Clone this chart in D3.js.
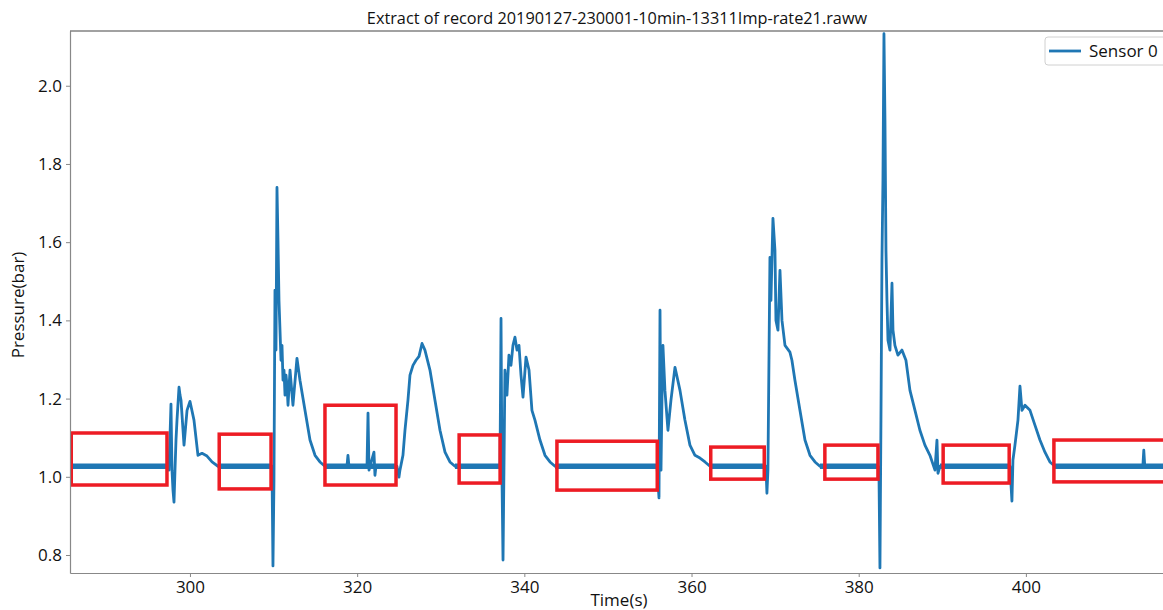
<!DOCTYPE html>
<html>
<head>
<meta charset="utf-8">
<script src="https://cdn.jsdelivr.net/npm/d3@7"></script>
<style>
  body { margin: 0; background: #fff; }
  text { font-family: "Open Sans", sans-serif; fill: #111; }
</style>
</head>
<body>
<div id="chart"></div>
<script>
const times = [
  285.65, 297.37, 297.49, 297.73, 297.85, 297.97, 298.09, 298.21, 298.33, 298.45, 298.69, 298.81, 298.93,
  299.29, 299.65, 300.0, 300.48, 300.96, 301.44, 302.04, 302.64, 303.35,
  309.81, 309.93, 310.05, 310.17, 310.29, 310.41, 310.53, 310.65, 310.77, 310.89, 311.01, 311.13, 311.25,
  311.37, 311.49, 311.61, 311.73, 311.97, 312.32, 312.80, 313.16, 313.76, 314.36, 314.96, 315.55, 316.15,
  318.78, 318.90, 319.02, 321.18, 321.30, 321.42, 322.01, 322.13, 322.25, 324.76, 325.0, 325.12, 325.48,
  325.72, 326.08, 326.32, 326.68, 327.04, 327.40, 327.76, 328.11, 328.71, 329.31, 329.91, 330.51, 331.10, 331.70,
  337.09, 337.21, 337.33, 337.45, 337.56, 337.68, 337.92, 338.16, 338.40, 338.64, 338.88, 339.12, 339.36,
  339.60, 339.84, 340.20, 340.56, 340.91, 341.27, 341.87, 342.47, 343.07, 343.67,
  355.87, 356.11, 356.23, 356.35, 356.47, 356.58, 356.82, 357.18, 357.54, 358.02, 358.62, 359.21, 359.81,
  360.41, 361.01, 361.61, 362.21,
  368.90, 369.02, 369.14, 369.38, 369.50, 369.74, 369.98, 370.10, 370.34, 370.58, 370.82, 371.18, 371.77,
  372.01, 372.37, 372.97, 373.57, 374.17, 374.77, 375.36,
  382.30, 382.42, 382.54, 382.66, 382.78, 382.90, 383.02, 383.14, 383.26, 383.38, 383.50, 383.74, 383.98,
  384.10, 384.33, 384.69, 385.17, 385.65, 386.13, 386.73, 387.32, 387.92, 388.52, 389.12, 389.36, 389.48, 389.72,
  398.09, 398.33, 398.45, 398.69, 399.05, 399.29, 399.53, 399.89, 400.49, 401.08, 401.68, 402.28, 402.87, 403.47,
  413.99, 414.10, 414.22, 416.40
];
const pressures = [
  1.027, 1.027, 1.017, 1.186, 1.017, 0.966, 0.935, 1.017, 1.094, 1.145, 1.229, 1.209, 1.196,
  1.081, 1.170, 1.193, 1.145, 1.055, 1.060, 1.053, 1.038, 1.027,
  1.027, 0.772, 0.992, 1.477, 1.324, 1.740, 1.604, 1.451, 1.375, 1.298, 1.336, 1.247, 1.273,
  1.209, 1.260, 1.234, 1.183, 1.273, 1.183, 1.303, 1.247, 1.170, 1.094, 1.055, 1.038, 1.027,
  1.027, 1.055, 1.027, 1.027, 1.163, 1.017, 1.063, 1.004, 1.027, 1.027, 0.999, 1.017, 1.055,
  1.119, 1.196, 1.260, 1.285, 1.298, 1.308, 1.341, 1.324, 1.273, 1.196, 1.119, 1.063, 1.038, 1.027,
  1.027, 1.405, 0.992, 0.787, 1.017, 1.273, 1.209, 1.311, 1.285, 1.336, 1.357, 1.324, 1.336,
  1.260, 1.204, 1.306, 1.273, 1.170, 1.145, 1.094, 1.055, 1.038, 1.027,
  1.027, 0.946, 1.426, 1.017, 1.209, 1.336, 1.221, 1.119, 1.196, 1.280, 1.221, 1.145, 1.081,
  1.055, 1.048, 1.038, 1.027,
  1.027, 0.958, 1.017, 1.561, 1.451, 1.661, 1.579, 1.400, 1.375, 1.528, 1.400, 1.336, 1.319,
  1.298, 1.247, 1.170, 1.094, 1.055, 1.038, 1.027,
  1.027, 1.017, 0.767, 1.145, 1.554, 1.758, 2.133, 1.911, 1.579, 1.451, 1.349, 1.324, 1.495,
  1.375, 1.336, 1.311, 1.324, 1.298, 1.221, 1.170, 1.119, 1.081, 1.055, 1.017, 1.094, 1.009, 1.027,
  1.027, 0.938, 1.043, 1.081, 1.145, 1.232, 1.170, 1.183, 1.170, 1.132, 1.094, 1.063, 1.038, 1.027,
  1.027, 1.068, 1.027, 1.027
];

// Ruhephasen (Rauschband um den Grundwert)
const quietStart = [285.65, 303.35, 316.15, 331.70, 343.67, 362.21, 375.36, 389.72, 403.47];
const quietEnd   = [297.37, 309.81, 324.76, 337.09, 355.87, 368.90, 382.30, 398.09, 416.40];
const quietLow = 1.020;
const quietHigh = 1.034;

// Rote Markierungen
const boxT0 = [285.8, 303.5, 316.15, 332.2, 343.9, 362.3, 375.95, 390.1, 403.35];
const boxT1 = [297.25, 309.7, 324.65, 337.1, 355.9, 368.7, 382.3, 398.0, 418.0];
const boxP0 = [0.979, 0.969, 0.979, 0.984, 0.966, 0.994, 0.994, 0.984, 0.987];
const boxP1 = [1.112, 1.109, 1.183, 1.107, 1.091, 1.076, 1.081, 1.081, 1.094];

const xTicks = [300, 320, 340, 360, 380, 400];
const yTicks = [0.8, 1.0, 1.2, 1.4, 1.6, 1.8, 2.0];
const seriesName = "Sensor 0";
const title = "Extract of record 20190127-230001-10min-13311Imp-rate21.raww";

// Konfiguration
const width = 1163;
const height = 610;
const margin = {top: 31, right: 0, bottom: 37, left: 70};
const lineColor = "#1f77b4";

const svg = d3.select("#chart")
    .append("svg")
    .attr("width", width)
    .attr("height", height);

const x = d3.scaleLinear()
    .domain([285.65, 416.4])
    .range([margin.left, width - margin.right]);

const y = d3.scaleLinear()
    .domain([0.754, 2.14])
    .range([height - margin.bottom, margin.top]);

svg.append("clipPath").attr("id", "plot")
    .append("rect")
    .attr("x", margin.left)
    .attr("y", margin.top)
    .attr("width", width - margin.left - margin.right)
    .attr("height", height - margin.top - margin.bottom);

const plot = svg.append("g").attr("clip-path", "url(#plot)");

// Rauschband
plot.selectAll("rect.band")
    .data(quietStart.map((t, i) => ({t0: t, t1: quietEnd[i]})))
    .join("rect")
    .attr("class", "band")
    .attr("x", d => x(d.t0))
    .attr("width", d => x(d.t1) - x(d.t0))
    .attr("y", y(quietHigh))
    .attr("height", y(quietLow) - y(quietHigh))
    .attr("fill", lineColor);

// Linie
const data = times.map((t, i) => ({t: t, p: pressures[i]}));
plot.append("path")
    .datum(data)
    .attr("fill", "none")
    .attr("stroke", lineColor)
    .attr("stroke-width", 2.8)
    .attr("stroke-linejoin", "round")
    .attr("d", d3.line().x(d => x(d.t)).y(d => y(d.p)));

// Rote Rechtecke
plot.selectAll("rect.mark")
    .data(boxT0.map((t, i) => ({t0: t, t1: boxT1[i], p0: boxP0[i], p1: boxP1[i]})))
    .join("rect")
    .attr("class", "mark")
    .attr("x", d => x(d.t0))
    .attr("y", d => y(d.p1))
    .attr("width", d => x(d.t1) - x(d.t0))
    .attr("height", d => y(d.p0) - y(d.p1))
    .attr("fill", "none")
    .attr("stroke", "#ed1c24")
    .attr("stroke-width", 3.5);

// Achsen
const xAxis = svg.append("g")
    .attr("transform", `translate(0,${height - margin.bottom})`)
    .call(d3.axisBottom(x).tickValues(xTicks).tickSize(4).tickSizeOuter(0).tickPadding(4));
const yAxis = svg.append("g")
    .attr("transform", `translate(${margin.left},0)`)
    .call(d3.axisLeft(y).tickValues(yTicks).tickFormat(d3.format(".1f")).tickSize(4).tickSizeOuter(0).tickPadding(4));

[xAxis, yAxis].forEach(a => {
    a.select(".domain").attr("stroke", "#888").attr("stroke-width", 1.2);
    a.selectAll(".tick line").attr("stroke", "#888");
    a.selectAll(".tick text").attr("font-size", 17).attr("font-family", "Open Sans").attr("fill", "#111");
});

svg.append("line")
    .attr("x1", margin.left).attr("x2", width)
    .attr("y1", margin.top).attr("y2", margin.top)
    .attr("stroke", "#444").attr("stroke-width", 1.2);

// Beschriftungen
svg.append("text")
    .attr("x", 617).attr("y", 24)
    .attr("text-anchor", "middle")
    .attr("font-size", 16.3)
    .text(title);

svg.append("text")
    .attr("x", 619).attr("y", 606)
    .attr("text-anchor", "middle")
    .attr("font-size", 17)
    .text("Time(s)");

svg.append("text")
    .attr("transform", `translate(24,${305}) rotate(-90)`)
    .attr("text-anchor", "middle")
    .attr("font-size", 17)
    .text("Pressure(bar)");

// Legende
const legend = svg.append("g");
legend.append("rect")
    .attr("x", 1045).attr("y", 37)
    .attr("width", 130).attr("height", 28)
    .attr("rx", 3)
    .attr("fill", "#fff")
    .attr("stroke", "#d0d0d0");
legend.append("line")
    .attr("x1", 1049).attr("x2", 1081)
    .attr("y1", 51).attr("y2", 51)
    .attr("stroke", lineColor).attr("stroke-width", 2.8);
legend.append("text")
    .attr("x", 1089).attr("y", 57)
    .attr("font-size", 17)
    .text(seriesName);
</script>
</body>
</html>
